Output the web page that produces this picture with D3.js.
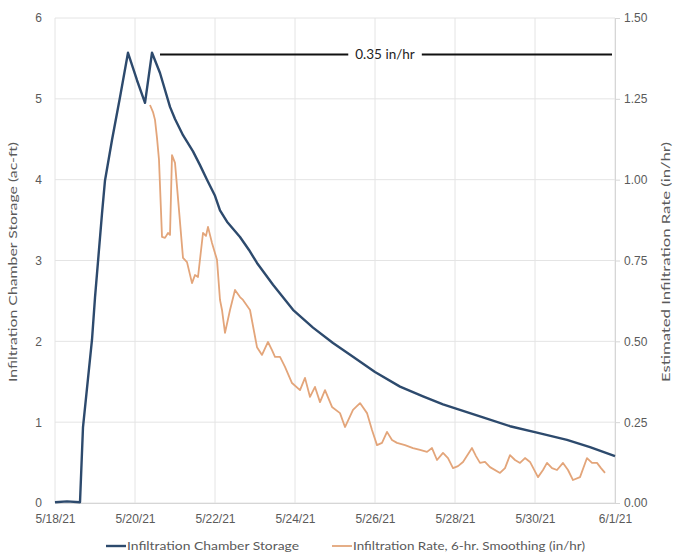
<!DOCTYPE html>
<html>
<head>
<meta charset="utf-8">
<script src="https://cdn.jsdelivr.net/npm/d3@7/dist/d3.min.js"></script>
<style>
  html, body { margin: 0; padding: 0; background: #fff; }
  svg { display: block; font-family: "Lato", "Open Sans", sans-serif; }
</style>
</head>
<body>
<svg id="chart" width="676" height="554"></svg>
<script>
// ---- DATA ----
// time: days after 5/18/21 00:00
const storageTime  = [0, 0.3, 0.625, 0.7, 0.925, 1.0, 1.175, 1.25, 1.425, 1.625, 1.825, 2.05, 2.25, 2.425, 2.625, 2.875, 3.0, 3.2, 3.45, 3.625, 3.8, 4.0, 4.125, 4.3, 4.625, 4.85, 5.05, 5.45, 5.95, 6.45, 6.95, 7.45, 8.0, 8.625, 9.2, 9.7, 10.2, 10.7, 11.375, 12.05, 12.8, 13.375, 14.0];
const storageValue = [0.01, 0.02, 0.01, 0.94, 2.02, 2.54, 3.58, 3.99, 4.49, 5.02, 5.57, 5.23, 4.95, 5.57, 5.32, 4.90, 4.75, 4.55, 4.35, 4.18, 4.0, 3.80, 3.62, 3.48, 3.29, 3.13, 2.97, 2.70, 2.39, 2.17, 1.98, 1.81, 1.62, 1.44, 1.32, 1.22, 1.14, 1.06, 0.95, 0.87, 0.78, 0.69, 0.58];

const rateTime  = [2.375, 2.45, 2.5, 2.55, 2.6, 2.675, 2.75, 2.825, 2.875, 2.925, 3.0, 3.1, 3.2, 3.3, 3.425, 3.5, 3.575, 3.7, 3.775, 3.825, 3.925, 4.05, 4.125, 4.175, 4.25, 4.375, 4.5, 4.625, 4.7, 4.875, 5.05, 5.175, 5.325, 5.425, 5.5, 5.625, 5.75, 5.925, 6.125, 6.25, 6.375, 6.5, 6.625, 6.75, 6.925, 7.125, 7.25, 7.45, 7.625, 7.8, 7.925, 8.05, 8.175, 8.3, 8.425, 8.55, 8.75, 8.95, 9.125, 9.3, 9.425, 9.55, 9.7, 9.825, 9.95, 10.075, 10.2, 10.425, 10.525, 10.625, 10.75, 10.875, 11.125, 11.25, 11.375, 11.5, 11.625, 11.75, 11.875, 12.075, 12.2, 12.3, 12.425, 12.55, 12.7, 12.825, 12.95, 13.125, 13.3, 13.425, 13.55, 13.65, 13.75];
const rateValue = [1.231, 1.209, 1.185, 1.129, 1.061, 0.823, 0.820, 0.835, 0.829, 1.076, 1.052, 0.906, 0.758, 0.745, 0.680, 0.705, 0.699, 0.835, 0.826, 0.854, 0.804, 0.752, 0.628, 0.597, 0.526, 0.597, 0.659, 0.637, 0.628, 0.597, 0.482, 0.458, 0.498, 0.473, 0.452, 0.452, 0.421, 0.371, 0.349, 0.387, 0.328, 0.359, 0.312, 0.349, 0.297, 0.278, 0.235, 0.288, 0.309, 0.278, 0.226, 0.179, 0.186, 0.220, 0.195, 0.186, 0.179, 0.170, 0.164, 0.158, 0.170, 0.133, 0.155, 0.139, 0.108, 0.114, 0.127, 0.170, 0.145, 0.124, 0.127, 0.111, 0.093, 0.108, 0.148, 0.133, 0.124, 0.139, 0.127, 0.080, 0.102, 0.124, 0.108, 0.102, 0.124, 0.102, 0.071, 0.080, 0.139, 0.124, 0.124, 0.108, 0.093];

const leftTicks  = [0, 1, 2, 3, 4, 5, 6];
const rightTicks = [0, 0.25, 0.5, 0.75, 1.0, 1.25, 1.5];
const xTickDays  = [0, 2, 4, 6, 8, 10, 12, 14];

const annoStart = 2.625, annoEnd = 13.925, annoValue = 5.55, annoLabel = "0.35 in/hr";
const leftTitle  = "Infiltration Chamber Storage (ac-ft)";
const rightTitle = "Estimated Infiltration Rate (in/hr)";
const legendLabels = ["Infiltration Chamber Storage", "Infiltration Rate, 6-hr. Smoothing (in/hr)"];

// ---- CHART ----
const start = new Date(2021, 4, 18);
const toDate = d => new Date(start.getTime() + d * 86400000);

const svg = d3.select("#chart");
const L = 55, R = 615, T = 18, B = 503;

const x = d3.scaleTime().domain([start, toDate(14)]).range([L, R]);
const yL = d3.scaleLinear().domain([0, 6]).range([B, T]);
const yR = d3.scaleLinear().domain([0, 1.5]).range([B, T]);

const gridColor = "#e4e4e4";
const textColor = "#5a5a5a";
const blue = "#2d4a6d", orange = "#e3a57a";

// gridlines
svg.append("g").selectAll("line").data(leftTicks).join("line")
  .attr("x1", L).attr("x2", R)
  .attr("y1", d => yL(d)).attr("y2", d => yL(d))
  .attr("stroke", gridColor).attr("stroke-width", 1);
svg.append("g").selectAll("line").data(xTickDays).join("line")
  .attr("x1", d => x(toDate(d))).attr("x2", d => x(toDate(d)))
  .attr("y1", T).attr("y2", B)
  .attr("stroke", gridColor).attr("stroke-width", 1);

// left axis
const gL = svg.append("g").attr("transform", `translate(${L},0)`)
  .call(d3.axisLeft(yL).tickValues(leftTicks).tickFormat(d3.format("d")).tickSize(0).tickPadding(13));
gL.select(".domain").remove();
gL.selectAll("text").attr("fill", textColor).style("font-size", "12px");

// right axis
const gR = svg.append("g").attr("transform", `translate(${R},0)`)
  .call(d3.axisRight(yR).tickValues(rightTicks).tickFormat(d3.format(".2f")).tickSize(5).tickPadding(4));
gR.select(".domain").attr("stroke", "#d6d6d6");
gR.selectAll(".tick line").attr("stroke", "#d6d6d6");
gR.selectAll("text").attr("fill", textColor).style("font-size", "12px");

// bottom axis
const gB = svg.append("g").attr("transform", `translate(0,${B})`)
  .call(d3.axisBottom(x).tickValues(xTickDays.map(toDate)).tickFormat(d3.timeFormat("%-m/%-d/%y")).tickSize(0).tickPadding(11));
gB.select(".domain").attr("stroke", "#d6d6d6");
gB.selectAll("text").attr("fill", textColor).style("font-size", "12px");

// axis titles
svg.append("text").attr("transform", `translate(17,262) rotate(-90)`)
  .attr("text-anchor", "middle").attr("fill", textColor).style("font-size", "12px")
  .attr("textLength", 240).attr("lengthAdjust", "spacingAndGlyphs").text(leftTitle);
svg.append("text").attr("transform", `translate(670,262) rotate(-90)`)
  .attr("text-anchor", "middle").attr("fill", textColor).style("font-size", "12px")
  .attr("textLength", 240).attr("lengthAdjust", "spacingAndGlyphs").text(rightTitle);

// lines
const storageData = storageTime.map((t, i) => ({ t, v: storageValue[i] }));
const rateData = rateTime.map((t, i) => ({ t, v: rateValue[i] }));

svg.append("path").datum(rateData)
  .attr("fill", "none").attr("stroke", orange).attr("stroke-width", 1.8)
  .attr("stroke-linejoin", "round")
  .attr("d", d3.line().x(d => x(toDate(d.t))).y(d => yR(d.v)));

svg.append("path").datum(storageData)
  .attr("fill", "none").attr("stroke", blue).attr("stroke-width", 2.4)
  .attr("stroke-linejoin", "round")
  .attr("d", d3.line().x(d => x(toDate(d.t))).y(d => yL(d.v)));

// annotation
const ay = yL(annoValue);
const ga = svg.append("g");
ga.append("line")
  .attr("x1", x(toDate(annoStart))).attr("x2", x(toDate(annoEnd)))
  .attr("y1", ay).attr("y2", ay)
  .attr("stroke", "#111").attr("stroke-width", 2);
const ax = (x(toDate(annoStart)) + x(toDate(annoEnd))) / 2 - 1;
const bg = ga.append("rect").attr("fill", "#fff");
const at = ga.append("text").attr("x", ax).attr("y", ay + 4.5)
  .attr("text-anchor", "middle").attr("fill", "#222").style("font-size", "13.5px").text(annoLabel);
const bb = at.node().getBBox();
bg.attr("x", bb.x - 7).attr("y", ay - 4).attr("width", bb.width + 14).attr("height", 8);

// legend
const lg = svg.append("g").attr("transform", "translate(0,546)");
const items = [
  { x: 106, color: blue, w: 2.4, label: legendLabels[0], len: 172 },
  { x: 332, color: orange, w: 1.8, label: legendLabels[1], len: 232 }
];
items.forEach(it => {
  lg.append("line").attr("x1", it.x).attr("x2", it.x + 20).attr("y1", 0).attr("y2", 0)
    .attr("stroke", it.color).attr("stroke-width", it.w);
  lg.append("text").attr("x", it.x + 21).attr("y", 4).attr("fill", textColor)
    .style("font-size", "12px").attr("textLength", it.len).attr("lengthAdjust", "spacingAndGlyphs")
    .text(it.label);
});
</script>
</body>
</html>
